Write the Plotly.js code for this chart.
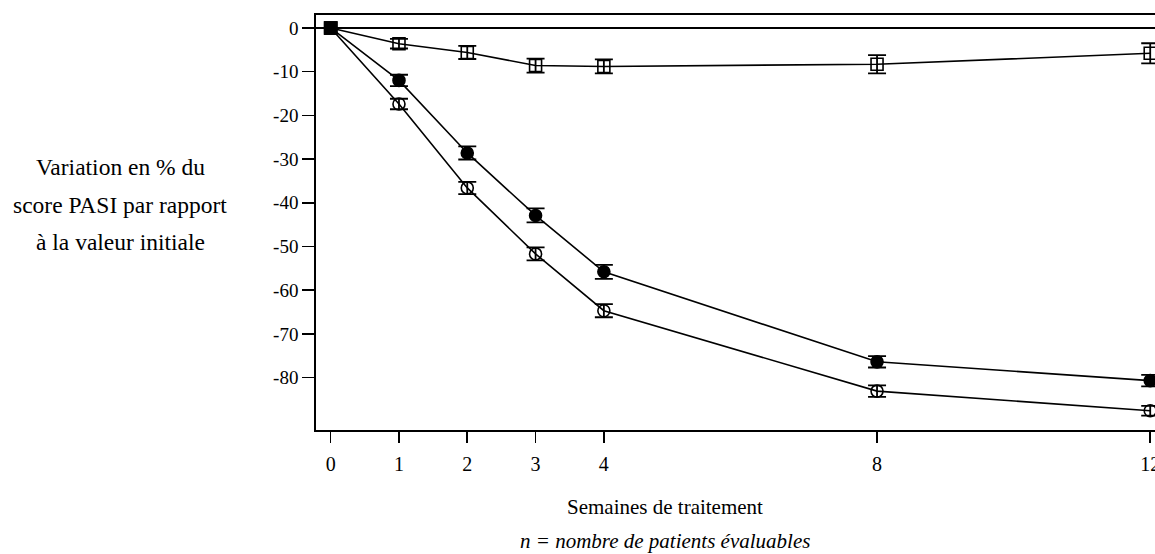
<!DOCTYPE html>
<html>
<head>
<meta charset="utf-8">
<script src="https://cdn.plot.ly/plotly-3.0.1.min.js"></script>
<style>html,body{margin:0;padding:0;background:#fff;}#chart{width:1155px;height:554px;}</style>
</head>
<body>
<div id="chart"></div>
<script>
// Data
const weeks = [0, 1, 2, 3, 4, 8, 12];
const xTickLabels = ["0", "1", "2", "3", "4", "8", "12"];
const yTickVals = [0, -10, -20, -30, -40, -50, -60, -70, -80];
const yTickLabels = ["0", "-10", "-20", "-30", "-40", "-50", "-60", "-70", "-80"];

const squareSeries = [0, -3.6, -5.6, -8.6, -8.8, -8.3, -5.8];
const squareErr    = [0, 1.1, 1.5, 1.6, 1.6, 2.1, 2.3];

const filledSeries = [0, -12.0, -28.6, -42.9, -55.8, -76.4, -80.7];
const filledErr    = [0, 1.3, 1.5, 1.6, 1.6, 1.3, 1.3];

const openSeries   = [0, -17.4, -36.6, -51.7, -64.7, -83.1, -87.6];
const openErr      = [0, 1.2, 1.4, 1.5, 1.5, 1.3, 1.1];

const black = '#000000';
function trace(name, y, err, symbols, size) {
  return {
    type: 'scatter', mode: 'lines+markers', name: name,
    x: weeks, y: y,
    line: {color: black, width: 1.6},
    marker: {symbol: symbols, size: size, color: black, line: {color: black, width: 1.6}},
    error_y: {type: 'data', array: err, visible: true, color: black, thickness: 1.8, width: 9},
    cliponaxis: false,
    showlegend: false
  };
}

const data = [
  trace('Carré', squareSeries, squareErr, ['square', 'square-open', 'square-open', 'square-open', 'square-open', 'square-open', 'square-open'], 12),
  trace('Cercle plein', filledSeries, filledErr, ['square', 'circle', 'circle', 'circle', 'circle', 'circle', 'circle'], 12),
  trace('Cercle vide', openSeries, openErr, ['square', 'circle-open', 'circle-open', 'circle-open', 'circle-open', 'circle-open', 'circle-open'], 12)
];

const font = '"Liberation Serif", "Times New Roman", serif';
const titleSize = 23.5;
const layout = {
  width: 1155, height: 554,
  margin: {l: 316, r: 0, t: 15, b: 124, pad: 0},
  paper_bgcolor: '#ffffff', plot_bgcolor: '#ffffff',
  font: {family: font, size: 19, color: black},
  xaxis: {
    range: [-0.215, 12.07], tickmode: 'array', tickvals: weeks, ticktext: xTickLabels,
    ticks: 'outside', ticklen: 11, tickwidth: 1.6, tickcolor: black,
    showline: true, linecolor: black, linewidth: 1.8, mirror: true,
    showgrid: false, zeroline: false, ticklabeloverflow: 'allow', ticklabelstandoff: 4,
    tickfont: {family: font, size: 20, color: black}
  },
  yaxis: {
    range: [-92.0, 2.97], tickmode: 'array', tickvals: yTickVals, ticktext: yTickLabels,
    ticks: 'outside', ticklen: 12, tickwidth: 1.6, tickcolor: black,
    showline: true, linecolor: black, linewidth: 1.8, mirror: false,
    showgrid: false, zeroline: true, zerolinecolor: black, zerolinewidth: 1.8,
    tickfont: {family: font, size: 19, color: black}
  },
  annotations: [
    {text: 'Variation en % du', xref: 'paper', yref: 'paper', x: -0.2336, y: (430 - 167) / 415, xanchor: 'center', yanchor: 'middle', showarrow: false, font: {family: font, size: titleSize, color: black}},
    {text: 'score PASI par rapport', xref: 'paper', yref: 'paper', x: -0.2336, y: (430 - 205) / 415, xanchor: 'center', yanchor: 'middle', showarrow: false, font: {family: font, size: titleSize, color: black}},
    {text: 'à la valeur initiale', xref: 'paper', yref: 'paper', x: -0.2336, y: (430 - 242) / 415, xanchor: 'center', yanchor: 'middle', showarrow: false, font: {family: font, size: titleSize, color: black}},
    {text: 'Semaines de traitement', xref: 'paper', yref: 'paper', x: 0.416, y: (430 - 507) / 415, xanchor: 'center', yanchor: 'middle', showarrow: false, font: {family: font, size: 21, color: black}},
    {text: '<i>n = nombre de patients évaluables</i>', xref: 'paper', yref: 'paper', x: 0.416, y: (430 - 541) / 415, xanchor: 'center', yanchor: 'middle', showarrow: false, font: {family: font, size: 21, color: black}}
  ]
};

Plotly.newPlot('chart', data, layout, {displayModeBar: false, staticPlot: true});
</script>
</body>
</html>
